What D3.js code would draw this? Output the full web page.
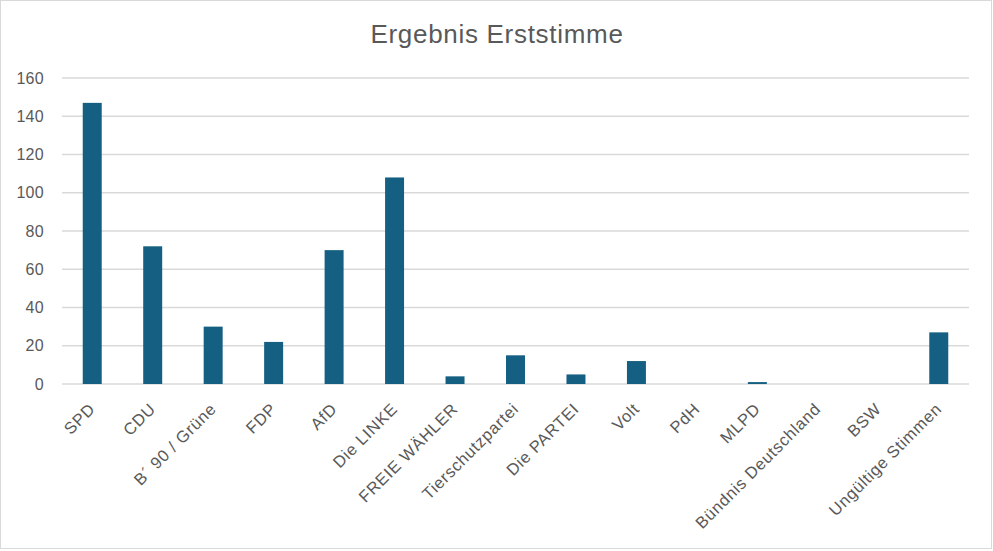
<!DOCTYPE html>
<html>
<head>
<meta charset="utf-8">
<script src="https://cdn.jsdelivr.net/npm/d3@7"></script>
<style>
  body { margin: 0; background: #fff; }
  svg { display: block; }
  text { font-family: "Liberation Sans", Arial, sans-serif; fill: #595959; }
</style>
</head>
<body>
<div class="chart"></div>
<script>
var parteien = ["SPD", "CDU", "B´ 90 / Grüne", "FDP", "AfD", "Die LINKE", "FREIE WÄHLER",
  "Tierschutzpartei", "Die PARTEI", "Volt", "PdH", "MLPD", "Bündnis Deutschland", "BSW", "Ungültige Stimmen"];
var stimmen = [147, 72, 30, 22, 70, 108, 4, 15, 5, 12, 0, 1, 0, 0, 27];
var yTicks = [0, 20, 40, 60, 80, 100, 120, 140, 160];

var width = 993, height = 551;
var margin = { top: 78, right: 24, bottom: 167, left: 62 };

var svg = d3.select(".chart").append("svg")
  .attr("width", width)
  .attr("height", height);

svg.append("rect")
  .attr("x", 0.5).attr("y", 0.5)
  .attr("width", width - 2).attr("height", height - 3)
  .attr("fill", "#fff")
  .attr("stroke", "#d9d9d9");

var x = d3.scaleBand()
  .domain(parteien)
  .range([margin.left, width - margin.right])
  .paddingInner(0.686)
  .paddingOuter(0.343);

var y = d3.scaleLinear()
  .domain([0, 160])
  .range([height - margin.bottom, margin.top]);

// gitterlinien
svg.append("g")
  .selectAll("line")
  .data(yTicks)
  .enter()
  .append("line")
  .attr("x1", margin.left)
  .attr("x2", width - margin.right)
  .attr("y1", function (d) { return y(d); })
  .attr("y2", function (d) { return y(d); })
  .attr("stroke", "#d9d9d9")
  .attr("stroke-width", 1.5);

// y-achse
var yAxis = svg.append("g")
  .attr("transform", "translate(" + (margin.left - 18) + ",0)")
  .call(d3.axisLeft(y).tickValues(yTicks).tickSize(0).tickPadding(0));
yAxis.select(".domain").remove();
yAxis.selectAll("text")
  .style("font-size", "16px")
  .style("letter-spacing", "0.3px")
  .attr("fill", "#595959");

svg.append("g")
  .selectAll("rect")
  .data(stimmen)
  .enter()
  .append("rect")
  .attr("x", function (d, i) { return x(parteien[i]); })
  .attr("y", function (d) { return y(d); })
  .attr("width", x.bandwidth())
  .attr("height", function (d) { return y(0) - y(d); })
  .attr("fill", "#156082");

// x-achse
var xAxis = svg.append("g")
  .attr("transform", "translate(0," + y(0) + ")")
  .call(d3.axisBottom(x).tickSize(0).tickPadding(0));
xAxis.select(".domain").remove();
xAxis.selectAll("text")
  .style("font-size", "16.5px")
  .style("letter-spacing", "0.7px")
  .attr("fill", "#595959")
  .attr("text-anchor", "end")
  .attr("dy", null)
  .attr("y", 0)
  .attr("transform", "translate(4,26) rotate(-45)");

svg.append("text")
  .attr("x", 497)
  .attr("y", 43)
  .attr("text-anchor", "middle")
  .style("font-size", "26px")
  .style("letter-spacing", "0.7px")
  .text("Ergebnis Erststimme");
</script>
</body>
</html>
